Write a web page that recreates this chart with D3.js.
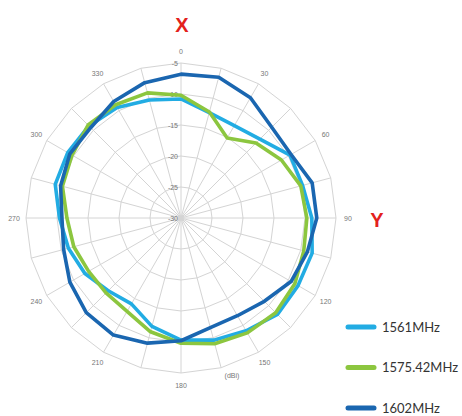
<!DOCTYPE html>
<html><head><meta charset="utf-8">
<script src="https://cdn.jsdelivr.net/npm/d3@7"></script>
<style>body{margin:0;background:#fff}svg{display:block}</style>
</head><body>
<svg id="c" width="462" height="416"></svg>
<script>
const angles = [0,15,30,45,60,75,90,105,120,135,150,165,180,195,210,225,240,255,270,285,300,315,330,345];
const angleLabels = ["0","","30","","60","","90","","120","","150","","180","","210","","240","","270","","300","","330",""];
const ringTicks = [-30,-25,-20,-15,-10,-5];
const seriesNames = ["1561MHz","1575.42MHz","1602MHz"];
const s1561 = [-10.8,-12.4,-12.8,-12.0,-9.7,-9.7,-8.9,-8.1,-8.2,-8.0,-9.0,-9.6,-10.3,-11.9,-14.0,-13.4,-12.1,-11.2,-10.4,-9.0,-8.9,-9.0,-9.4,-10.3];
const s1575 = [-10.2,-12.3,-15.1,-12.9,-11.3,-10.0,-9.7,-9.5,-8.8,-8.4,-8.6,-9.0,-9.8,-11.0,-12.6,-12.9,-12.8,-12.1,-11.6,-10.2,-9.7,-8.8,-8.9,-9.1];
const s1602 = [-6.8,-6.5,-7.6,-9.3,-9.5,-8.1,-8.1,-8.9,-9.5,-11.0,-11.8,-11.7,-10.2,-9.1,-8.2,-8.4,-9.3,-10.4,-10.8,-9.9,-9.3,-9.4,-8.3,-7.4];
const colors = ["#22ACE3","#8CC63F","#1A66B0"];

const svg = d3.select("#c");
const cx = 181, cy = 218, R = 155;
const r = d3.scaleLinear().domain([-30,-5]).range([0,R]);
const a = d3.scaleLinear().domain([0,360]).range([0,2*Math.PI]);
const g = svg.append("g").attr("transform",`translate(${cx},${cy})`);

// grid polygons
const gridLine = d3.lineRadial().angle(d=>a(d.ang)).radius(d=>r(d.v)).curve(d3.curveLinearClosed);
ringTicks.slice(1).forEach(v=>{
  g.append("path").attr("d", gridLine(angles.map(ang=>({ang, v}))))
   .attr("fill","none").attr("stroke","#d4d4d4").attr("stroke-width",1);
});
// spokes
angles.forEach(ang=>{
  const t = a(ang);
  g.append("line").attr("x1",0).attr("y1",0)
   .attr("x2",R*Math.sin(t)).attr("y2",-R*Math.cos(t))
   .attr("stroke","#d4d4d4").attr("stroke-width",1);
});
// ring labels
ringTicks.forEach(v=>{
  g.append("text").attr("x",-3).attr("y",-r(v)+3).attr("text-anchor","end")
   .attr("font-family","Liberation Sans, Arial").attr("font-size",7).attr("fill","#777").text(v);
});
// angle labels
angles.forEach((ang,i)=>{
  if(!angleLabels[i]) return;
  const t = a(ang), rr = R+12;
  g.append("text").attr("x",rr*Math.sin(t)).attr("y",-rr*Math.cos(t)+2.5)
   .attr("text-anchor","middle").attr("font-family","Liberation Sans, Arial")
   .attr("font-size",7).attr("fill","#777").text(angleLabels[i]);
});
g.append("text").attr("x",51).attr("y",160).attr("text-anchor","middle")
 .attr("font-family","Liberation Sans, Arial").attr("font-size",7).attr("fill","#777").text("(dBi)");

// series
const line = d3.lineRadial().angle((d,i)=>a(angles[i])).radius(d=>r(d)).curve(d3.curveLinearClosed);
[s1561,s1575,s1602].forEach((s,k)=>{
  g.append("path").attr("d",line(s)).attr("fill","none").attr("stroke",colors[k])
   .attr("stroke-width",3.6).attr("stroke-linejoin","round");
});

// axis titles
svg.append("text").attr("x",182).attr("y",32).attr("text-anchor","middle")
 .attr("font-family","Liberation Sans, Arial").attr("font-weight","bold").attr("font-size",20)
 .attr("fill","#E3211C").text("X");
svg.append("text").attr("x",377).attr("y",227).attr("text-anchor","middle")
 .attr("font-family","Liberation Sans, Arial").attr("font-weight","bold").attr("font-size",20)
 .attr("fill","#E3211C").text("Y");

// legend
seriesNames.forEach((n,k)=>{
  const y = 327 + k*40.5;
  svg.append("line").attr("x1",348).attr("x2",374).attr("y1",y).attr("y2",y)
   .attr("stroke",colors[k]).attr("stroke-width",5).attr("stroke-linecap","round");
  svg.append("text").attr("x",382).attr("y",y+4.5).attr("font-family","Lato, Carlito, sans-serif")
   .attr("font-size",13).attr("fill","#333").text(n);
});
</script>
</body></html>
